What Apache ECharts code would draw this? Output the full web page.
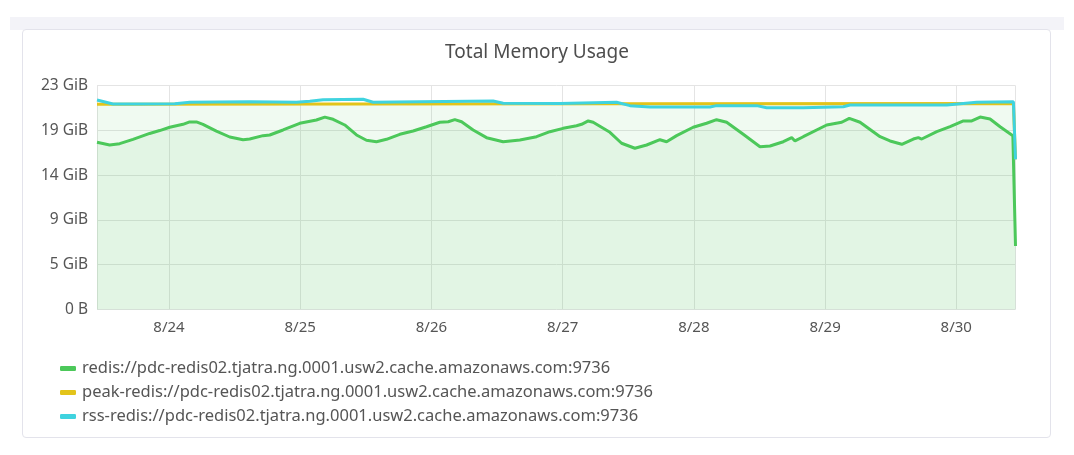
<!DOCTYPE html>
<html>
<head>
<meta charset="utf-8">
<script src="https://cdn.jsdelivr.net/npm/echarts@6/dist/echarts.min.js"></script>
<style>
  html, body { margin: 0; padding: 0; background: #ffffff; }
  #band { position: absolute; left: 10px; top: 17px; width: 1054px; height: 13px; background: #f3f3f8; }
  #card { position: absolute; left: 22px; top: 29px; width: 1027px; height: 407px; background: #ffffff;
          border: 1px solid #e3e3eb; border-radius: 4px; }
  #chart { position: absolute; left: 0; top: 0; width: 1074px; height: 455px; }
</style>
</head>
<body>
<div id="band"></div>
<div id="card"></div>
<div id="chart"></div>
<script>
// ---- Data (values in GiB) ----
const seriesNames = [
  'redis://pdc-redis02.tjatra.ng.0001.usw2.cache.amazonaws.com:9736',
  'peak-redis://pdc-redis02.tjatra.ng.0001.usw2.cache.amazonaws.com:9736',
  'rss-redis://pdc-redis02.tjatra.ng.0001.usw2.cache.amazonaws.com:9736'
];
const chartTitle = 'Total Memory Usage';
const xMin = '2023-08-23 10:50';
const xMax = '2023-08-30 10:50';
const yMaxBytes = 25e9;          // top of axis
const yIntervalBytes = 5e9;      // tick step

const redisTimes = [
  '2023-08-23 10:50','2023-08-23 13:09','2023-08-23 14:59','2023-08-23 17:25','2023-08-23 20:28','2023-08-23 22:18',
  '2023-08-24 00:08','2023-08-24 02:34','2023-08-24 03:47','2023-08-24 05:01','2023-08-24 06:13','2023-08-24 08:40',
  '2023-08-24 11:07','2023-08-24 13:33','2023-08-24 14:46','2023-08-24 17:12','2023-08-24 18:26','2023-08-24 20:52',
  '2023-08-24 23:55','2023-08-25 02:58','2023-08-25 04:30','2023-08-25 06:01','2023-08-25 08:09','2023-08-25 10:18',
  '2023-08-25 12:07','2023-08-25 13:57','2023-08-25 15:47','2023-08-25 18:13','2023-08-25 20:39','2023-08-25 23:06',
  '2023-08-26 01:32','2023-08-26 03:04','2023-08-26 04:17','2023-08-26 05:31','2023-08-26 07:38','2023-08-26 10:05',
  '2023-08-26 13:07','2023-08-26 16:11','2023-08-26 19:14','2023-08-26 21:40','2023-08-27 00:06','2023-08-27 02:33',
  '2023-08-27 03:28','2023-08-27 04:41','2023-08-27 05:35','2023-08-27 08:39','2023-08-27 10:47','2023-08-27 13:13',
  '2023-08-27 15:22','2023-08-27 17:48','2023-08-27 19:01','2023-08-27 20:51','2023-08-27 23:53','2023-08-28 02:20',
  '2023-08-28 04:10','2023-08-28 06:00','2023-08-28 09:02','2023-08-28 12:06','2023-08-28 13:56','2023-08-28 16:22',
  '2023-08-28 17:54','2023-08-28 18:30','2023-08-28 20:01','2023-08-29 00:18','2023-08-29 03:03','2023-08-29 04:26',
  '2023-08-29 06:24','2023-08-29 10:04','2023-08-29 11:53','2023-08-29 14:02','2023-08-29 16:09','2023-08-29 17:04',
  '2023-08-29 17:41','2023-08-29 20:26','2023-08-29 22:52','2023-08-30 01:18','2023-08-30 02:50','2023-08-30 04:22',
  '2023-08-30 06:11','2023-08-30 08:01','2023-08-30 10:21','2023-08-30 10:50'
];
const redisValues = [
  17.38,17.10,17.24,17.69,18.30,18.60,
  18.94,19.25,19.50,19.50,19.25,18.55,
  17.93,17.65,17.72,18.07,18.14,18.66,
  19.35,19.70,20.00,19.77,19.18,18.14,
  17.59,17.44,17.69,18.21,18.55,19.00,
  19.46,19.52,19.73,19.52,18.66,17.86,
  17.44,17.62,17.96,18.48,18.83,19.10,
  19.25,19.60,19.46,18.42,17.28,16.76,
  17.10,17.65,17.44,18.07,18.94,19.36,
  19.73,19.46,18.21,16.92,16.99,17.44,
  17.86,17.52,17.96,19.18,19.46,19.87,
  19.46,17.96,17.52,17.17,17.72,17.86,
  17.72,18.48,19.00,19.60,19.60,20.00,
  19.80,19.00,18.07,6.60
];

const peakTimes = ['2023-08-23 10:50','2023-08-27 10:00','2023-08-30 10:27','2023-08-30 10:50'];
const peakValues = [21.33, 21.38, 21.40, 15.60];

const rssTimes = [
  '2023-08-23 10:50','2023-08-23 13:45','2023-08-23 18:38','2023-08-24 01:04','2023-08-24 03:49','2023-08-24 14:46',
  '2023-08-24 23:19','2023-08-25 01:45','2023-08-25 04:11','2023-08-25 11:30','2023-08-25 13:20','2023-08-25 21:53',
  '2023-08-26 11:17','2023-08-26 13:07','2023-08-26 23:30','2023-08-27 09:52','2023-08-27 12:19','2023-08-27 15:58',
  '2023-08-28 02:57','2023-08-28 04:10','2023-08-28 11:30','2023-08-28 13:19','2023-08-28 20:01','2023-08-29 03:20',
  '2023-08-29 04:34','2023-08-29 22:16','2023-08-30 03:45','2023-08-30 10:27','2023-08-30 10:50'
];
const rssValues = [
  21.78,21.36,21.36,21.38,21.54,21.60,
  21.54,21.65,21.80,21.85,21.54,21.60,
  21.67,21.43,21.40,21.54,21.19,21.05,
  21.05,21.19,21.19,20.98,20.98,21.08,
  21.26,21.26,21.54,21.60,15.60
];

const colors = { redis: '#4cc85a', peak: '#e3c41a', rss: '#3fd3df' };
const GiB = Math.pow(2, 30);

function pairs(times, values) { return times.map((t, i) => [t, values[i]]); }

const chart = echarts.init(document.getElementById('chart'), null, { renderer: 'canvas' });
const font = '"Noto Sans", sans-serif';
chart.setOption({
  animation: false,
  backgroundColor: 'transparent',
  title: {
    text: chartTitle, left: 'center', top: 38,
    textStyle: { fontFamily: font, fontSize: 19, fontWeight: 'normal', color: '#4d4d4d' }
  },
  grid: { left: 97, right: 58.5, top: 85.5, bottom: 145.5, containLabel: false },
  legend: {
    orient: 'vertical', left: 55, top: 355,
    data: [seriesNames[0], seriesNames[1], seriesNames[2]],
    icon: 'roundRect', itemWidth: 16, itemHeight: 5, itemGap: 7,
    textStyle: { fontFamily: font, fontSize: 16.5, color: '#555555', padding: [0, 0, 0, 1] }
  },
  xAxis: {
    type: 'time',
    min: xMin, max: xMax,
    minInterval: 86400000, maxInterval: 86400000,
    axisLine: { show: false },
    axisTick: { show: false },
    splitLine: { show: true, lineStyle: { color: '#e4e4e4', width: 1 } },
    axisLabel: {
      fontFamily: font, fontSize: 15, color: '#555555', margin: 11,
      showMinLabel: false, showMaxLabel: false,
      formatter: function (v) { const d = new Date(v); return (d.getMonth() + 1) + '/' + d.getDate(); }
    }
  },
  yAxis: {
    type: 'value',
    min: 0, max: yMaxBytes / GiB, interval: yIntervalBytes / GiB,
    axisLine: { show: false },
    axisTick: { show: false },
    splitLine: { lineStyle: { color: '#e4e4e4', width: 1 } },
    axisLabel: {
      fontFamily: font, fontSize: 15.5, color: '#555555', margin: 9,
      formatter: function (v) { return v === 0 ? '0 B' : Math.round(v) + ' GiB'; }
    }
  },
  series: [
    {
      name: seriesNames[1], type: 'line', showSymbol: false, symbol: 'none',
      data: pairs(peakTimes, peakValues),
      lineStyle: { color: colors.peak, width: 3 }, itemStyle: { color: colors.peak },
      areaStyle: { color: 'rgba(76,200,90,0.12)' }
    },
    {
      name: seriesNames[0], type: 'line', showSymbol: false, symbol: 'none',
      data: pairs(redisTimes, redisValues),
      lineStyle: { color: colors.redis, width: 3 }, itemStyle: { color: colors.redis },
      areaStyle: { color: 'rgba(76,200,90,0.12)' }
    },
    {
      name: seriesNames[2], type: 'line', showSymbol: false, symbol: 'none',
      data: pairs(rssTimes, rssValues),
      lineStyle: { color: colors.rss, width: 3 }, itemStyle: { color: colors.rss }
    }
  ]
});
</script>
</body>
</html>
